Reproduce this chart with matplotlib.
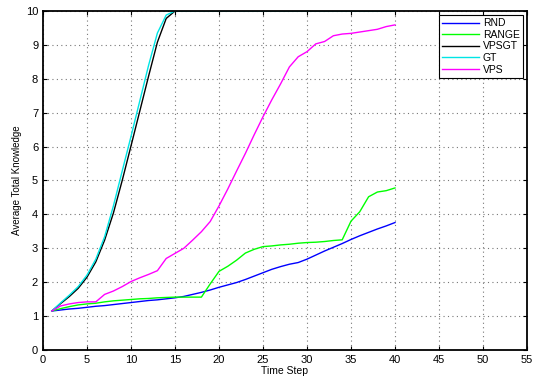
import numpy as np
import matplotlib
matplotlib.use('agg')
import matplotlib.pyplot as plt

plt.rcParams['font.family'] = ['Liberation Sans', 'DejaVu Sans']

## knowledge curves, one value per time step
steps = list(range(1, 41))

rnd = [1.15, 1.18, 1.21, 1.23, 1.26, 1.29, 1.31, 1.34, 1.37, 1.40,
       1.43, 1.46, 1.48, 1.51, 1.54, 1.58, 1.64, 1.70, 1.77, 1.85,
       1.92, 1.99, 2.08, 2.18, 2.28, 2.38, 2.46, 2.53, 2.58, 2.68,
       2.80, 2.92, 3.03, 3.14, 3.26, 3.37, 3.47, 3.57, 3.66, 3.76]

rng = [1.15, 1.22, 1.28, 1.33, 1.36, 1.38, 1.42, 1.45, 1.47, 1.49,
       1.51, 1.52, 1.54, 1.55, 1.56, 1.56, 1.56, 1.56, 1.95, 2.32,
       2.47, 2.65, 2.86, 2.97, 3.05, 3.07, 3.10, 3.12, 3.15, 3.17,
       3.18, 3.20, 3.23, 3.25, 3.80, 4.08, 4.52, 4.66, 4.70, 4.78]

vpsgt = [1.15, 1.37, 1.58, 1.82, 2.15, 2.60, 3.24, 4.04, 5.00, 6.02,
         7.05, 8.08, 9.08, 9.78, 10.0] + [10.0] * 25

gt = [1.15, 1.39, 1.62, 1.87, 2.21, 2.68, 3.34, 4.25, 5.28, 6.30,
      7.35, 8.40, 9.35, 9.88, 10.0] + [10.0] * 25

vps = [1.15, 1.30, 1.36, 1.40, 1.42, 1.42, 1.64, 1.74, 1.87, 2.02,
       2.13, 2.23, 2.34, 2.70, 2.85, 3.00, 3.24, 3.49, 3.79, 4.25,
       4.75, 5.28, 5.80, 6.35, 6.88, 7.38, 7.85, 8.35, 8.65, 8.80,
       9.03, 9.10, 9.27, 9.32, 9.34, 9.38, 9.42, 9.46, 9.54, 9.59]

fig = plt.figure(figsize=(5.33, 3.79), dpi=100)
ax = fig.add_axes([0.0807, 0.0765, 0.908, 0.8945])

ax.plot(steps, rnd, color='#0000ff', lw=1.0, label='RND')
ax.plot(steps, rng, color='#00ff00', lw=1.0, label='RANGE')
ax.plot(steps, vpsgt, color='k', lw=1.0, label='VPSGT')
ax.plot(steps, gt, color='#00e5e5', lw=1.0, label='GT')
ax.plot(steps, vps, color='#ff00ff', lw=1.0, label='VPS')

ax.set_xlim(0, 55)
ax.set_ylim(0, 10)
ax.set_xticks(np.arange(0, 56, 5))
ax.set_yticks(np.arange(0, 11, 1))
ax.set_axisbelow(True)
ax.grid(True, color='#777777', linestyle=(0, (1, 3)), linewidth=0.8)
ax.tick_params(direction='in', top=True, right=True, labelsize=8, length=3)
for s in ax.spines.values():
    s.set_linewidth(1.3)

ax.set_xlabel('Time Step', fontsize=7.5, labelpad=1)
ax.set_ylabel('Average Total Knowledge', fontsize=7, labelpad=3)

leg = ax.legend(loc='upper right', fontsize=7.5, fancybox=False,
                edgecolor='k', framealpha=1, handlelength=3.5,
                labelspacing=0.15, borderaxespad=0.4, borderpad=0.3,
                handletextpad=0.4)
leg.get_frame().set_linewidth(0.8)

plt.savefig('out.png', dpi=100)
